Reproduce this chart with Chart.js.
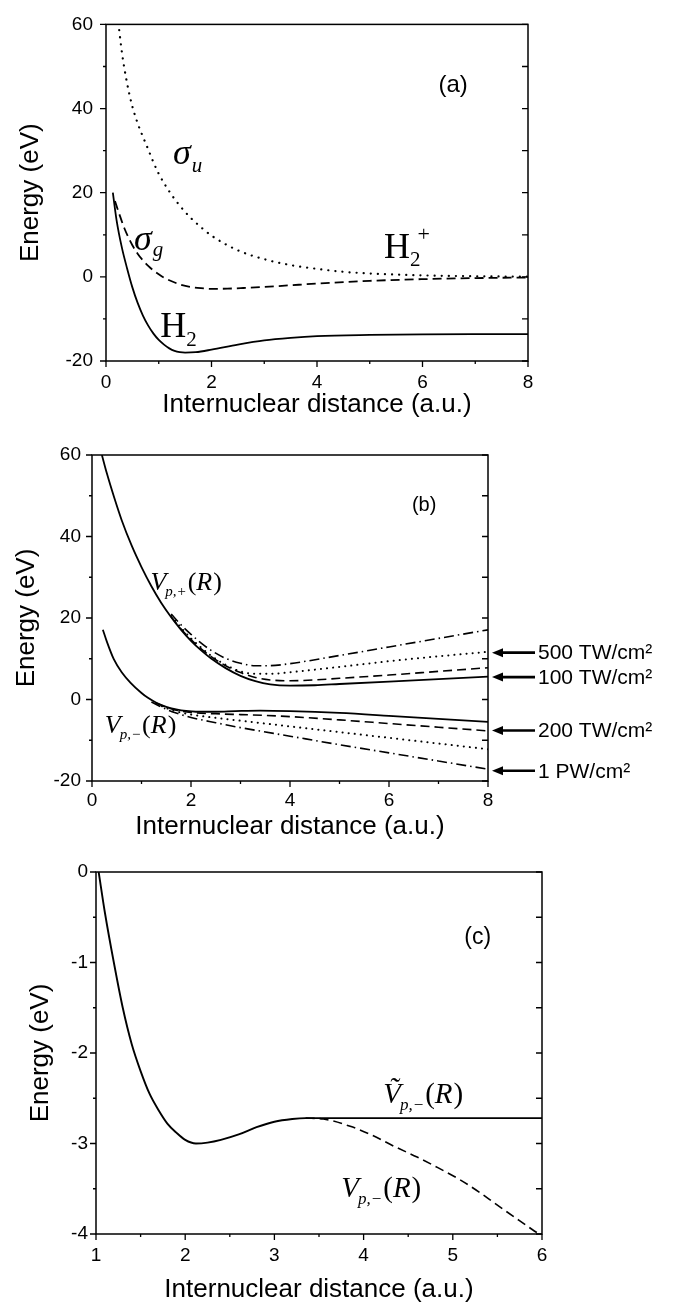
<!DOCTYPE html>
<html><head><meta charset="utf-8">
<script src="https://cdn.jsdelivr.net/npm/chart.js@4.4.1/dist/chart.umd.min.js"></script>
<style>
html,body{margin:0;padding:0;background:#fff;}
body{width:678px;height:1305px;position:relative;overflow:hidden;}
canvas{position:absolute;left:0;}
</style></head><body>
<canvas id="ca" width="678" height="430" style="top:0px;width:678px;height:430px"></canvas>
<canvas id="cb" width="678" height="420" style="top:430px;width:678px;height:420px"></canvas>
<canvas id="cc" width="678" height="455" style="top:850px;width:678px;height:455px"></canvas>
<script>
// ---------- Panel (a) ----------
const aXTicks = [0, 2, 4, 6, 8];
const aYTicks = [-20, 0, 20, 40, 60];
const aH2R  = [0.13,0.2,0.3,0.4,0.5,0.6,0.7,0.8,0.9,1.0,1.1,1.2,1.3,1.4,1.5,1.7,2.0,2.5,3.0,3.5,4.0,5.0,6.0,7.0,8.0];
const aH2E  = [20,13.5,7,2,-2.5,-6.2,-9.2,-11.6,-13.5,-15.0,-16.1,-17.0,-17.6,-17.9,-18.0,-17.9,-17.3,-16.1,-15.1,-14.5,-14.1,-13.8,-13.65,-13.6,-13.6];
const aSgR  = [0.17,0.25,0.35,0.5,0.6,0.7,0.8,0.9,1.0,1.1,1.2,1.4,1.6,1.8,2.0,2.3,2.6,3.0,3.5,4.0,4.5,5.0,6.0,7.0,8.0];
const aSgE  = [18,15,11.5,7.5,5.5,3.9,2.6,1.5,0.6,-0.2,-0.8,-1.8,-2.4,-2.7,-2.85,-2.8,-2.65,-2.4,-2.0,-1.6,-1.25,-0.95,-0.55,-0.3,-0.15];
const aSuR  = [0.22,0.3,0.4,0.5,0.6,0.7,0.8,0.9,1.0,1.2,1.4,1.6,1.8,2.0,2.5,3.0,3.5,4.0,4.5,5.0,6.0,7.0,8.0];
const aSuE  = [62,53.5,46,40.5,36.5,33.3,30.3,27.2,24.5,20.3,16.9,14.1,11.8,9.8,6.3,4.2,2.8,1.9,1.2,0.8,0.35,0.15,0.05];

// ---------- Panel (b) ----------
const bXTicks = [0, 2, 4, 6, 8];
const bYTicks = [-20, 0, 20, 40, 60];
const bIntensities = ['100 TW/cm²', '200 TW/cm²', '500 TW/cm²', '1 PW/cm²'];
const bUp100R = [0.2,0.3,0.45,0.6,0.8,1.0,1.2,1.4,1.6,1.8,2.0,2.2,2.4,2.7,3.0,3.3,3.6,4.0,4.5,5.0,6.0,7.0,8.0];
const bUp100E = [60,55.5,49.5,44,37.8,32.5,27.8,23.7,20.2,17.1,14.4,12.1,10.1,7.7,5.8,4.5,3.7,3.4,3.5,3.8,4.4,5.0,5.6];
const bUp200R = [1.6,1.8,2.0,2.2,2.4,2.7,3.0,3.3,3.6,4.0,4.5,5.0,6.0,7.0,8.0];
const bUp200E = [20.3,17.3,14.7,12.5,10.6,8.3,6.6,5.4,4.8,4.6,4.8,5.2,6.0,6.9,7.8];
const bUp500R = [1.6,1.8,2.0,2.2,2.4,2.7,3.0,3.3,3.6,4.0,5.0,6.0,7.0,8.0];
const bUp500E = [20.5,17.6,15.0,12.8,10.8,8.5,6.9,6.3,6.3,6.7,8.0,9.4,10.6,11.7];
const bUp1PR  = [1.6,1.8,2.0,2.2,2.4,2.7,3.0,3.3,3.6,4.0,5.0,6.0,7.0,8.0];
const bUp1PE  = [21,18.3,16.0,13.9,12.1,10.1,8.9,8.3,8.3,8.8,10.8,12.9,15.0,17.1];
const bLo100R = [0.22,0.3,0.44,0.6,0.78,1.0,1.13,1.3,1.5,1.7,1.9,2.1,2.5,2.9,3.4,4.0,5.0,6.0,7.0,8.0];
const bLo100E = [17.1,14.2,9.9,6.7,4.1,1.6,0.4,-0.8,-1.8,-2.4,-2.8,-3.0,-3.0,-2.85,-2.72,-2.85,-3.3,-4.0,-4.75,-5.5];
const bLo200R = [1.3,1.5,1.7,2.0,2.5,3.0,3.5,4.0,5.0,6.0,7.0,8.0];
const bLo200E = [-0.9,-1.9,-2.6,-3.2,-3.5,-3.7,-3.9,-4.2,-5.0,-5.9,-6.8,-7.7];
const bLo500R = [1.3,1.5,1.7,2.0,2.5,3.0,4.0,5.0,6.0,7.0,8.0];
const bLo500E = [-1.0,-2.1,-2.9,-3.7,-4.5,-5.2,-6.6,-8.0,-9.4,-10.8,-12.2];
const bLo1PR  = [1.2,1.5,1.7,2.0,2.5,3.0,4.0,5.0,6.0,7.0,8.0];
const bLo1PE  = [-0.6,-2.4,-3.3,-4.4,-5.7,-6.9,-9.0,-11.1,-13.1,-15.1,-17.1];
const bArrowE = [11.5, 5.5, -7.6, -17.5];
const bArrowText = ['500 TW/cm²', '100 TW/cm²', '200 TW/cm²', '1 PW/cm²'];

// ---------- Panel (c) ----------
const cXTicks = [1, 2, 3, 4, 5, 6];
const cYTicks = [-4, -3, -2, -1, 0];
const cTildeR = [1.03,1.1,1.2,1.3,1.4,1.5,1.6,1.7,1.8,1.9,2.0,2.12,2.25,2.4,2.6,2.8,3.0,3.2,3.35,4.0,5.0,6.0];
const cTildeE = [0,-0.45,-1.0,-1.5,-1.9,-2.2,-2.45,-2.63,-2.78,-2.88,-2.96,-3.0,-2.99,-2.96,-2.9,-2.82,-2.76,-2.73,-2.72,-2.72,-2.72,-2.72];
const cVR = [3.35,3.55,3.85,4.1,4.34,4.6,4.78,5.08,5.3,5.47,5.7,5.89,6.0];
const cVE = [-2.72,-2.73,-2.81,-2.91,-3.03,-3.15,-3.24,-3.4,-3.54,-3.66,-3.82,-3.95,-4.02];

const SANS = "'Liberation Sans', Arial, Helvetica, sans-serif";
const SERIF = "'Liberation Serif', 'Times New Roman', serif";

function pts(xs, ys) { return xs.map((x, i) => ({x: x, y: ys[i]})); }
function ds(xs, ys, dash, width, cap) {
  return {data: pts(xs, ys), borderColor: '#000', borderWidth: width || 1.8, borderDash: dash || [],
    borderCapStyle: cap || 'butt', pointRadius: 0, fill: false, cubicInterpolationMode: 'monotone', clip: 0};
}
const DASH = [9, 5], DOT = [0.1, 7], DOT_B = [0.1, 6], DASHDOT = [10, 4, 1.5, 4];

// frame + ticks, via the chart's own scales
const framePlugin = {
  id: 'frame',
  afterDatasetsDraw(chart) {
    const {ctx, chartArea: {left, right, top, bottom}, scales: {x, y}} = chart;
    ctx.save();
    ctx.strokeStyle = '#000';
    ctx.lineWidth = 1.5;
    ctx.strokeRect(left, top, right - left, bottom - top);
    ctx.lineWidth = 1.3;
    ctx.beginPath();
    const xv = x.ticks.map(t => t.value), yv = y.ticks.map(t => t.value);
    const xs = xv[1] - xv[0], ys = yv[1] - yv[0];
    xv.forEach((v, i) => {
      const p = x.getPixelForValue(v);
      ctx.moveTo(p, bottom); ctx.lineTo(p, bottom + 6);
      if (i < xv.length - 1) {
        const m = x.getPixelForValue(v + xs / 2);
        ctx.moveTo(m, bottom); ctx.lineTo(m, bottom + 3);
      }
    });
    yv.forEach((v, i) => {
      const p = y.getPixelForValue(v);
      ctx.moveTo(left, p); ctx.lineTo(left - 6, p);
      ctx.moveTo(right, p); ctx.lineTo(right - 6, p);
      if (i < yv.length - 1) {
        const m = y.getPixelForValue(v + ys / 2);
        ctx.moveTo(left, m); ctx.lineTo(left - 3, m);
        ctx.moveTo(right, m); ctx.lineTo(right - 6, m);
      }
    });
    ctx.stroke();
    ctx.restore();
  }
};

// text notes and arrows placed in data coordinates
const notesPlugin = {
  id: 'notes',
  afterDraw(chart, args, opts) {
    const {ctx, scales: {x, y}} = chart;
    ctx.save();
    ctx.fillStyle = '#000';
    ctx.strokeStyle = '#000';
    (opts.items || []).forEach(it => {
      let px = x.getPixelForValue(it.x), py = y.getPixelForValue(it.y);
      ctx.textBaseline = it.baseline || 'alphabetic';
      ctx.textAlign = 'left';
      let w = 0;
      it.parts.forEach(p => { ctx.font = p.font; w += ctx.measureText(p.t).width + (p.dx || 0); });
      if (it.align === 'center') px -= w / 2;
      let cx = px;
      it.parts.forEach(p => {
        ctx.font = p.font;
        cx += (p.dx || 0);
        ctx.fillText(p.t, cx, py + (p.dy || 0));
        cx += ctx.measureText(p.t).width;
      });
    });
    (opts.arrows || []).forEach(a => {
      const x0 = x.getPixelForValue(a.x) + 4;
      const py = y.getPixelForValue(a.y);
      ctx.lineWidth = 2.6;
      ctx.beginPath(); ctx.moveTo(x0 + 8, py); ctx.lineTo(x0 + 43, py); ctx.stroke();
      ctx.beginPath(); ctx.moveTo(x0, py); ctx.lineTo(x0 + 11, py - 4.5); ctx.lineTo(x0 + 11, py + 4.5); ctx.closePath(); ctx.fill();
      ctx.font = '21px ' + SANS;
      ctx.textBaseline = 'middle';
      ctx.fillText(a.text, x0 + 46, py + 1);
    });
    ctx.restore();
  }
};

function makeScales(c) {
  return {
    x: {
      type: 'linear', position: 'bottom', min: c.xMin, max: c.xMax,
      afterBuildTicks: s => { s.ticks = c.xTicks.map(v => ({value: v})); },
      afterFit: s => { s.height = c.xAxisH; },
      grid: {display: false, drawTicks: false}, border: {display: false},
      ticks: {color: '#000', padding: c.xLabPad, font: {family: SANS, size: 19}, maxRotation: 0, autoSkip: false},
      title: {display: true, text: 'Internuclear distance (a.u.)', color: '#000',
        font: {family: SANS, size: 26}, padding: {top: 0, bottom: c.xTitlePad}}
    },
    y: {
      type: 'linear', position: 'left', min: c.yMin, max: c.yMax,
      afterBuildTicks: s => { s.ticks = c.yTicks.map(v => ({value: v})); },
      afterFit: s => { s.width = c.yAxisW; },
      grid: {display: false, drawTicks: false}, border: {display: false},
      ticks: {color: '#000', padding: c.yLabPad, font: {family: SANS, size: 19}, autoSkip: false},
      title: {display: true, text: 'Energy (eV)', color: '#000',
        font: {family: SANS, size: 26}, padding: {top: c.yTitlePad, bottom: 0}}
    }
  };
}

function makeChart(id, datasets, c, notes) {
  return new Chart(document.getElementById(id), {
    type: 'line',
    data: {datasets: datasets},
    options: {
      responsive: false, animation: false, events: [],
      layout: {padding: {left: 0, top: c.padTop, right: c.padRight, bottom: 0}},
      scales: makeScales(c),
      plugins: {legend: {display: false}, tooltip: {enabled: false}, notes: notes}
    },
    plugins: [framePlugin, notesPlugin]
  });
}

// Panel (a): canvas 0..430, plot 106..528 x 14..361
makeChart('ca', [
  ds(aSuR, aSuE, DOT, 2.2, 'round'),
  ds(aSgR, aSgE, DASH, 1.8),
  ds(aH2R, aH2E, [], 1.8)
], {xMin: 0, xMax: 8, yMin: -20, yMax: 60, xTicks: aXTicks, yTicks: aYTicks,
    padTop: 14, padRight: 150, yAxisW: 106, xAxisH: 69,
    xLabPad: 10, yLabPad: 13, xTitlePad: 10, yTitlePad: 15}, {
  items: [
    {x: 6.58, y: 45.4, align: 'center', baseline: 'middle', parts: [{t: '(a)', font: '24px ' + SANS}]},
    {x: 1.27, y: 26.8, parts: [{t: 'σ', font: 'italic 36px ' + SERIF}, {t: 'u', font: 'italic 21px ' + SERIF, dy: 8, dx: 1}]},
    {x: 0.53, y: 6.3, parts: [{t: 'σ', font: 'italic 36px ' + SERIF}, {t: 'g', font: 'italic 21px ' + SERIF, dy: 6, dx: 1}]},
    {x: 5.27, y: 4.4, parts: [{t: 'H', font: '36px ' + SERIF}, {t: '2', font: '21px ' + SERIF, dy: 8}, {t: '+', font: '22px ' + SERIF, dy: -17, dx: -3}]},
    {x: 1.03, y: -14.4, parts: [{t: 'H', font: '36px ' + SERIF}, {t: '2', font: '21px ' + SERIF, dy: 9}]}
  ]
});

// Panel (b): canvas 430..850, plot 92..488 x 455..781
makeChart('cb', [
  ds(bUp1PR, bUp1PE, DASHDOT, 1.6),
  ds(bUp500R, bUp500E, DOT_B, 2.0, 'round'),
  ds(bUp200R, bUp200E, DASH, 1.6),
  ds(bUp100R, bUp100E, [], 1.8),
  ds(bLo1PR, bLo1PE, DASHDOT, 1.6),
  ds(bLo500R, bLo500E, DOT_B, 2.0, 'round'),
  ds(bLo200R, bLo200E, DASH, 1.6),
  ds(bLo100R, bLo100E, [], 1.8)
], {xMin: 0, xMax: 8, yMin: -20, yMax: 60, xTicks: bXTicks, yTicks: bYTicks,
    padTop: 25, padRight: 190, yAxisW: 92, xAxisH: 69,
    xLabPad: 8, yLabPad: 11, xTitlePad: 8, yTitlePad: 11}, {
  items: [
    {x: 6.71, y: 47.6, align: 'center', baseline: 'middle', parts: [{t: '(b)', font: '20px ' + SANS}]},
    {x: 1.18, y: 26.9, parts: [{t: 'V', font: 'italic 26px ' + SERIF}, {t: 'p,+', font: 'italic 15px ' + SERIF, dy: 6, dx: -1},
      {t: '(', font: '26px ' + SERIF, dx: 1}, {t: 'R', font: 'italic 26px ' + SERIF}, {t: ')', font: '26px ' + SERIF, dx: 1}]},
    {x: 0.26, y: -8.2, parts: [{t: 'V', font: 'italic 26px ' + SERIF}, {t: 'p,−', font: 'italic 15px ' + SERIF, dy: 6, dx: -1},
      {t: '(', font: '26px ' + SERIF, dx: 1}, {t: 'R', font: 'italic 26px ' + SERIF}, {t: ')', font: '26px ' + SERIF, dx: 1}]}
  ],
  arrows: bArrowE.map((e, i) => ({x: 8, y: e, text: bArrowText[i]}))
});

// Panel (c): canvas 850..1305, plot 96..542 x 872..1234
makeChart('cc', [
  ds(cVR, cVE, DASH, 1.6),
  ds(cTildeR, cTildeE, [], 1.9)
], {xMin: 1, xMax: 6, yMin: -4, yMax: 0, xTicks: cXTicks, yTicks: cYTicks,
    padTop: 22, padRight: 136, yAxisW: 96, xAxisH: 71,
    xLabPad: 10, yLabPad: 8, xTitlePad: 0, yTitlePad: 25}, {
  items: [
    {x: 5.28, y: -0.72, align: 'center', baseline: 'middle', parts: [{t: '(c)', font: '23px ' + SANS}]},
    {x: 4.22, y: -2.55, parts: [{t: 'Ṽ', font: 'italic 29px ' + SERIF}, {t: 'p,−', font: 'italic 17px ' + SERIF, dy: 7, dx: -1},
      {t: '(', font: '29px ' + SERIF, dx: 1}, {t: 'R', font: 'italic 29px ' + SERIF}, {t: ')', font: '29px ' + SERIF, dx: 1}]},
    {x: 3.75, y: -3.59, parts: [{t: 'V', font: 'italic 29px ' + SERIF}, {t: 'p,−', font: 'italic 17px ' + SERIF, dy: 7, dx: -1},
      {t: '(', font: '29px ' + SERIF, dx: 1}, {t: 'R', font: 'italic 29px ' + SERIF}, {t: ')', font: '29px ' + SERIF, dx: 1}]}
  ]
});
</script>
</body></html>
